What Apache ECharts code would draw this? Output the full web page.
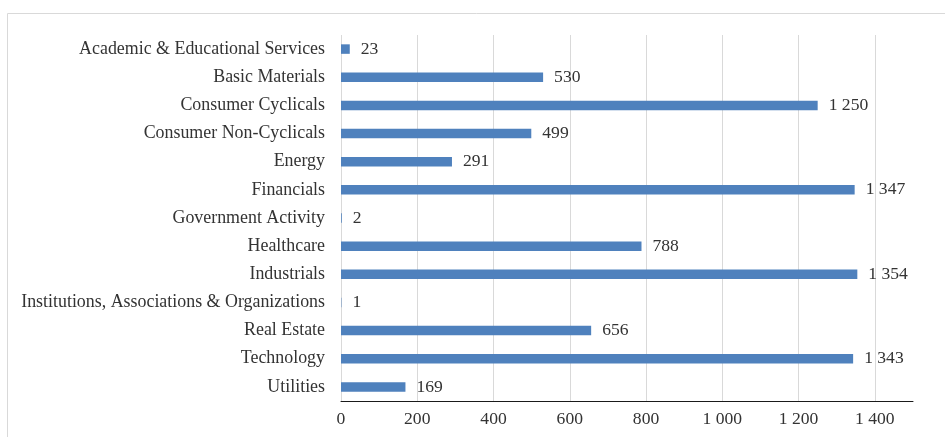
<!DOCTYPE html>
<html><head><meta charset="utf-8">
<script src="https://cdn.jsdelivr.net/npm/echarts@6/dist/echarts.min.js"></script>
<style>html,body{margin:0;padding:0;background:#fff}#c{width:945px;height:437px}</style>
</head><body><div id="c"></div>
<script>
const categories = ["Academic & Educational Services","Basic Materials","Consumer Cyclicals","Consumer Non-Cyclicals","Energy","Financials","Government Activity","Healthcare","Industrials","Institutions, Associations & Organizations","Real Estate","Technology","Utilities"];
const values = [23,530,1250,499,291,1347,2,788,1354,1,656,1343,169];
const xTicks = [0,200,400,600,800,1000,1200,1400];

function fmt(v){ return String(v).replace(/\B(?=(\d{3})+(?!\d))/g,' '); }
const FONT = 'Liberation Serif';
const chart = echarts.init(document.getElementById('c'));
chart.setOption({
  animation:false,
  graphic:[{type:'rect',shape:{x:7.5,y:13.5,width:1000,height:1000},style:{fill:'none',stroke:'#d9d9d9',lineWidth:1},silent:true,z:-1}],
  grid:{left:341,right:32,top:35,bottom:36,containLabel:false},
  xAxis:{type:'value',min:0,max:1500,interval:200,
    axisLine:{show:true,lineStyle:{color:'#1a1a1a',width:1}},
    axisTick:{show:false},
    splitLine:{show:true,showMaxLine:false,lineStyle:{color:'#d9d9d9',width:1}},
    axisLabel:{margin:9,color:'#333',fontFamily:FONT,fontSize:17.6,
      formatter:function(v){return xTicks.indexOf(v)>=0?fmt(v):'';}}
  },
  yAxis:{type:'category',data:categories,inverse:true,
    axisLine:{show:false},axisTick:{show:false},
    axisLabel:{margin:16,color:'#333',fontFamily:FONT,fontSize:17.9}
  },
  series:[{type:'bar',data:values,barWidth:9.5,itemStyle:{color:'#4f81bd'},
    label:{show:true,position:'right',distance:11,color:'#333',fontFamily:FONT,fontSize:17.6,
      formatter:function(p){return fmt(p.value);}}
  }]
});
</script></body></html>
